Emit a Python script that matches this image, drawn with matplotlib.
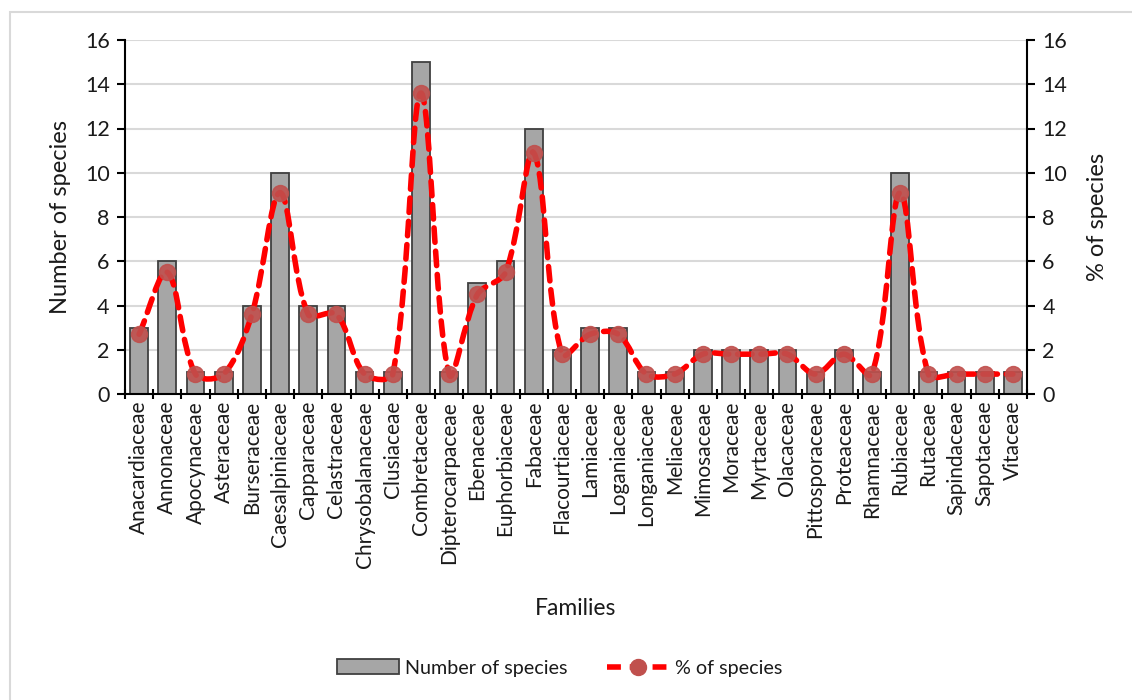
import matplotlib
matplotlib.use("Agg")
import matplotlib.pyplot as plt
import numpy as np
from matplotlib.path import Path
from matplotlib.patches import PathPatch, Rectangle
from matplotlib.lines import Line2D
from matplotlib.patches import Patch

families = ["Anacardiaceae", "Annonaceae", "Apocynaceae", "Asteraceae", "Burseraceae",
            "Caesalpiniaceae", "Capparaceae", "Celastraceae", "Chrysobalanaceae", "Clusiaceae",
            "Combretaceae", "Dipterocarpaceae", "Ebenaceae", "Euphorbiaceae", "Fabaceae",
            "Flacourtiaceae", "Lamiaceae", "Loganiaceae", "Longaniaceae", "Meliaceae",
            "Mimosaceae", "Moraceae", "Myrtaceae", "Olacaceae", "Pittosporaceae",
            "Proteaceae", "Rhamnaceae", "Rubiaceae", "Rutaceae", "Sapindaceae",
            "Sapotaceae", "Vitaceae"]
n_species = [3, 6, 1, 1, 4, 10, 4, 4, 1, 1, 15, 1, 5, 6, 12, 2, 3, 3, 1, 1,
             2, 2, 2, 2, 1, 2, 1, 10, 1, 1, 1, 1]
pct_species = [2.7, 5.5, 0.9, 0.9, 3.6, 9.1, 3.6, 3.6, 0.9, 0.9, 13.6, 0.9, 4.5, 5.5, 10.9,
               1.8, 2.7, 2.7, 0.9, 0.9, 1.8, 1.8, 1.8, 1.8, 0.9, 1.8, 0.9, 9.1, 0.9, 0.9, 0.9, 0.9]
y_ticks = [0, 2, 4, 6, 8, 10, 12, 14, 16]

plt.rcParams['font.family'] = ['Lato', 'DejaVu Sans']
TXT = '#1a1a1a'

W, H = 1132, 700
fig = plt.figure(figsize=(W / 100, H / 100), dpi=100)
fig.patches.append(Rectangle((10 / W, -0.1), 1.2, (H - 12) / H + 0.1, transform=fig.transFigure,
                             fill=False, edgecolor='#d9d9d9', linewidth=1.5))

left, right, top, bottom = 125, 1027, 40, 394
ax = fig.add_axes([left / W, 1 - bottom / H, (right - left) / W, (bottom - top) / H])

x = np.arange(len(families))
ax.bar(x, n_species, width=0.63, color='#a6a6a6', edgecolor='#404040', linewidth=1.3, zorder=2)
ax.set_xlim(-0.5, len(families) - 0.5)
ax.set_ylim(0, 16)
ax.set_yticks(y_ticks)
ax.yaxis.grid(True, color='#d9d9d9', linewidth=1.5, zorder=0)
ax.set_axisbelow(True)
for s in ['top', 'right']:
    ax.spines[s].set_visible(False)
ax.spines['left'].set_linewidth(1.5)
ax.spines['bottom'].set_linewidth(1.5)
ax.set_xticks(x)
ax.set_xticklabels(families, rotation=90, fontsize=15, color=TXT)
ax.tick_params(axis='x', length=0, pad=5)
ax.set_xticks(np.arange(-0.5, len(families), 1), minor=True)
ax.tick_params(axis='x', which='minor', length=7, width=1.5, direction='inout')
ax.tick_params(axis='y', length=6, width=1.5, labelsize=15.5, pad=5, labelcolor=TXT)
ax.set_ylabel('Number of species', fontsize=17, color=TXT, labelpad=10)
ax.set_xlabel('Families', fontsize=16.5, labelpad=22, color=TXT)

ax2 = ax.twinx()
ax2.set_ylim(0, 16)
ax2.set_yticks(y_ticks)
for s in ['top', 'left', 'bottom']:
    ax2.spines[s].set_visible(False)
ax2.spines['right'].set_linewidth(1.5)
ax2.tick_params(axis='y', length=6, width=1.5, labelsize=15.5, pad=5, labelcolor=TXT)
ax2.set_ylabel('% of species', fontsize=17, labelpad=14, color=TXT)

# smoothed line (Excel-like), computed in display space
fig.canvas.draw()
pts = ax2.transData.transform(np.column_stack([x, pct_species]))
verts = [pts[0]]
codes = [Path.MOVETO]
n = len(pts)
t = 1.0 / 3.0
for i in range(n - 1):
    p0 = pts[i - 1] if i > 0 else pts[i]
    p1 = pts[i]
    p2 = pts[i + 1]
    p3 = pts[i + 2] if i + 2 < n else pts[i + 1]
    d01 = np.hypot(*(p1 - p0))
    d12 = np.hypot(*(p2 - p1))
    d23 = np.hypot(*(p3 - p2))
    f1 = d12 / (d01 + d12) if (d01 + d12) > 0 else 0
    f2 = d12 / (d12 + d23) if (d12 + d23) > 0 else 0
    c1 = p1 + (p2 - p0) * f1 * t
    c2 = p2 - (p3 - p1) * f2 * t
    verts += [c1, c2, p2]
    codes += [Path.CURVE4] * 3
verts = ax2.transData.inverted().transform(np.array(verts))
path = Path(verts, codes)
ax2.add_patch(PathPatch(path, fill=False, edgecolor='#ff0000', linewidth=4,
                        linestyle=(0, (2.6, 1.6)), capstyle='round', zorder=3))
ax2.plot(x, pct_species, linestyle='none', marker='o', markersize=11.5,
         markerfacecolor='#c0504d', markeredgecolor='#c0504d', alpha=0.9, zorder=4)

handles = [Patch(facecolor='#a6a6a6', edgecolor='#404040', linewidth=1.3),
           Line2D([0], [0], color='#ff0000', linewidth=4, linestyle=(0, (2.5, 1.6)),
                  marker='o', markersize=11.5, markerfacecolor='#c0504d', markeredgecolor='#c0504d')]
fig.legend(handles, ['Number of species', '% of species'], loc='center',
           bbox_to_anchor=(560 / W, 1 - 668 / H), ncol=2, frameon=False, fontsize=14.2,
           labelcolor=TXT, handlelength=3.15, handleheight=0.8, columnspacing=2.0, handletextpad=0.3)

fig.savefig('out.png', dpi=100)
